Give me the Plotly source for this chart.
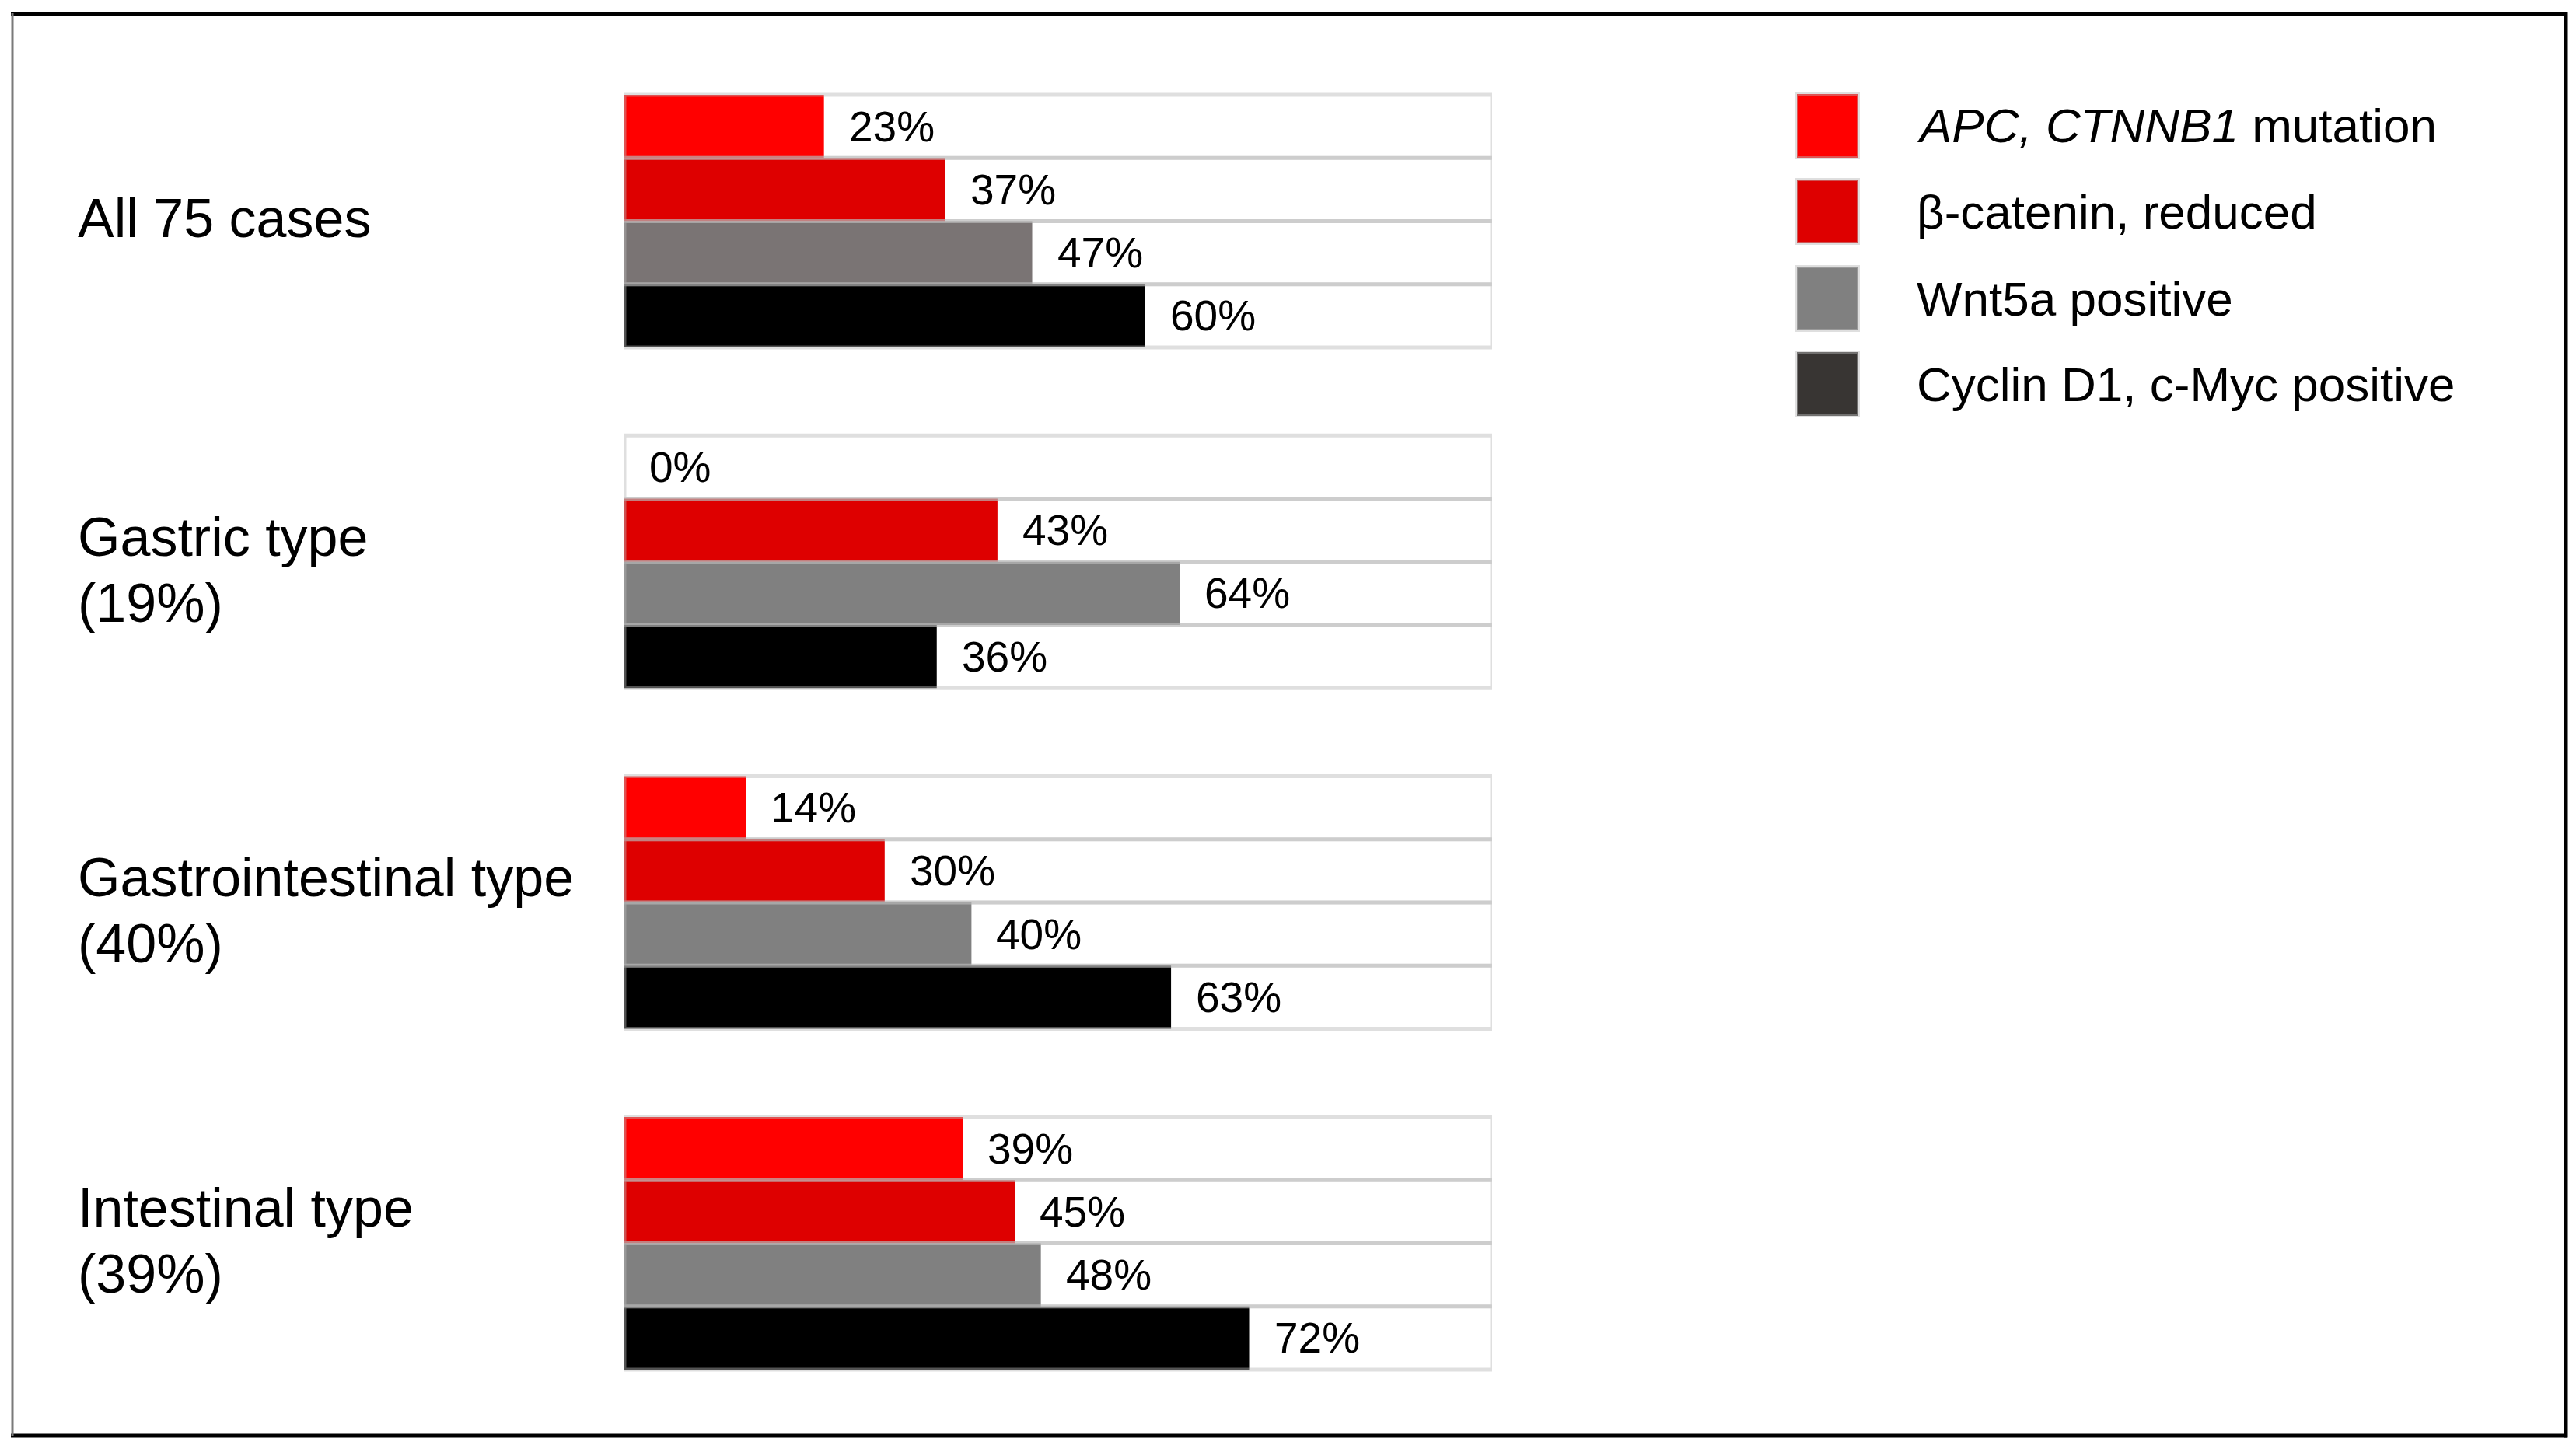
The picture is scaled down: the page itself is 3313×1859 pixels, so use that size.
import plotly.graph_objects as go

# ---- data ----
group_lines = [["All 75 cases"], ["Gastric type", "(19%)"], ["Gastrointestinal type", "(40%)"], ["Intestinal type", "(39%)"]]
series_names = ["<i>APC, CTNNB1</i> mutation", "β-catenin, reduced", "Wnt5a positive", "Cyclin D1, c-Myc positive"]
apc_mutation = [23, 0, 14, 39]
bcatenin_reduced = [37, 43, 30, 45]
wnt5a_positive = [47, 64, 40, 48]
cyclin_cmyc_positive = [60, 36, 63, 72]
series_values = [apc_mutation, bcatenin_reduced, wnt5a_positive, cyclin_cmyc_positive]

bar_colors = ["#ff0000", "#de0000", ["#7a7474", "#808080", "#808080", "#808080"], "#000000"]
legend_colors = ["#ff0000", "#de0000", "#808080", "#383533"]

# page offset compensation
OFF_X, OFF_Y = 8, 4
REF_W, REF_H = 3313, 1859
W, H = REF_W - OFF_X, REF_H - OFF_Y

def px(v):
    return (v - OFF_X) / W

def py(v):
    return 1 - (v - OFF_Y) / H

ROW_PX = 81.25
TOP_PX = 118 - OFF_Y
GROUP_GAP = 438.3 / ROW_PX  # in row units
X0, X1 = 803, 1919
FONT = "Liberation Sans, Arial, sans-serif"
label_dy = [4, 2, 2, 15]  # per-group label nudges (px, up)

def ypos(g, r):
    return g * GROUP_GAP + r

fig = go.Figure()

for r, (name, vals, col) in enumerate(zip(series_names, series_values, bar_colors)):
    fig.add_trace(go.Bar(
        x=vals,
        y=[ypos(g, r) for g in range(len(group_lines))],
        orientation="h",
        width=1.0,
        marker=dict(color=col, line=dict(width=0)),
        name=name,
        showlegend=False,
        hoverinfo="skip",
    ))

# cell outlines (full 100% rows)
all_y = [ypos(g, r) for g in range(len(group_lines)) for r in range(4)]
fig.add_trace(go.Bar(
    x=[100] * len(all_y),
    y=all_y,
    orientation="h",
    width=1.0,
    marker=dict(color="rgba(0,0,0,0)", line=dict(color="rgba(185,185,185,0.45)", width=5)),
    showlegend=False,
    hoverinfo="skip",
))

annotations = []
# value labels
for r, vals in enumerate(series_values):
    for g, v in enumerate(vals):
        annotations.append(dict(
            x=v, y=ypos(g, r), xref="x", yref="y",
            text=f"{v}%", showarrow=False, xanchor="left", yanchor="middle",
            xshift=30, font=dict(size=55, color="#000000", family=FONT),
        ))
# group labels (one annotation per line for tighter line spacing)
for g, lines in enumerate(group_lines):
    shifts = [0] if len(lines) == 1 else [30, -55]
    for line, s in zip(lines, shifts):
        annotations.append(dict(
            x=px(98), y=ypos(g, 1.5), xref="paper", yref="y", yshift=s + label_dy[g],
            text=line, showarrow=False, xanchor="left", yanchor="middle", align="left",
            font=dict(size=70, color="#000000", family=FONT),
        ))

shapes = []
# legend (manual)
leg_centers = [158, 268, 380, 490]
for name, col, cy in zip(series_names, legend_colors, leg_centers):
    shapes.append(dict(
        type="rect", xref="paper", yref="paper",
        x0=px(2311), x1=px(2390), y0=py(cy - 41), y1=py(cy + 41),
        fillcolor=col, line=dict(color="rgba(185,185,185,0.45)", width=4),
    ))
    annotations.append(dict(
        x=px(2463), y=py(cy), xref="paper", yref="paper",
        text=name, showarrow=False, xanchor="left", yanchor="middle",
        font=dict(size=62, color="#000000", family=FONT),
    ))

# outer frame
shapes += [
    dict(type="line", xref="paper", yref="paper", x0=px(14), x1=px(3302), y0=py(13.5), y1=py(13.5),
         line=dict(color="#000000", width=5)),
    dict(type="line", xref="paper", yref="paper", x0=px(14), x1=px(3302), y0=py(1843), y1=py(1843),
         line=dict(color="#000000", width=5)),
    dict(type="line", xref="paper", yref="paper", x0=px(3300), x1=px(3300), y0=py(11), y1=py(1845.5),
         line=dict(color="#000000", width=5)),
    dict(type="line", xref="paper", yref="paper", x0=px(16), x1=px(16), y0=py(13), y1=py(1843),
         line=dict(color="#7a7a7a", width=3)),
]

y_top = -0.5 - TOP_PX / ROW_PX
y_bot = -0.5 + (H - TOP_PX) / ROW_PX

fig.update_layout(
    width=W, height=H,
    margin=dict(l=0, r=0, t=0, b=0),
    paper_bgcolor="#ffffff", plot_bgcolor="rgba(0,0,0,0)",
    barmode="overlay",
    showlegend=False,
    xaxis=dict(domain=[px(X0), px(X1)], range=[0, 100], visible=False, fixedrange=True),
    yaxis=dict(domain=[0, 1], range=[y_bot, y_top], visible=False, fixedrange=True),
    annotations=annotations,
    shapes=shapes,
    font=dict(family=FONT),
)

fig.write_html("out.html")
